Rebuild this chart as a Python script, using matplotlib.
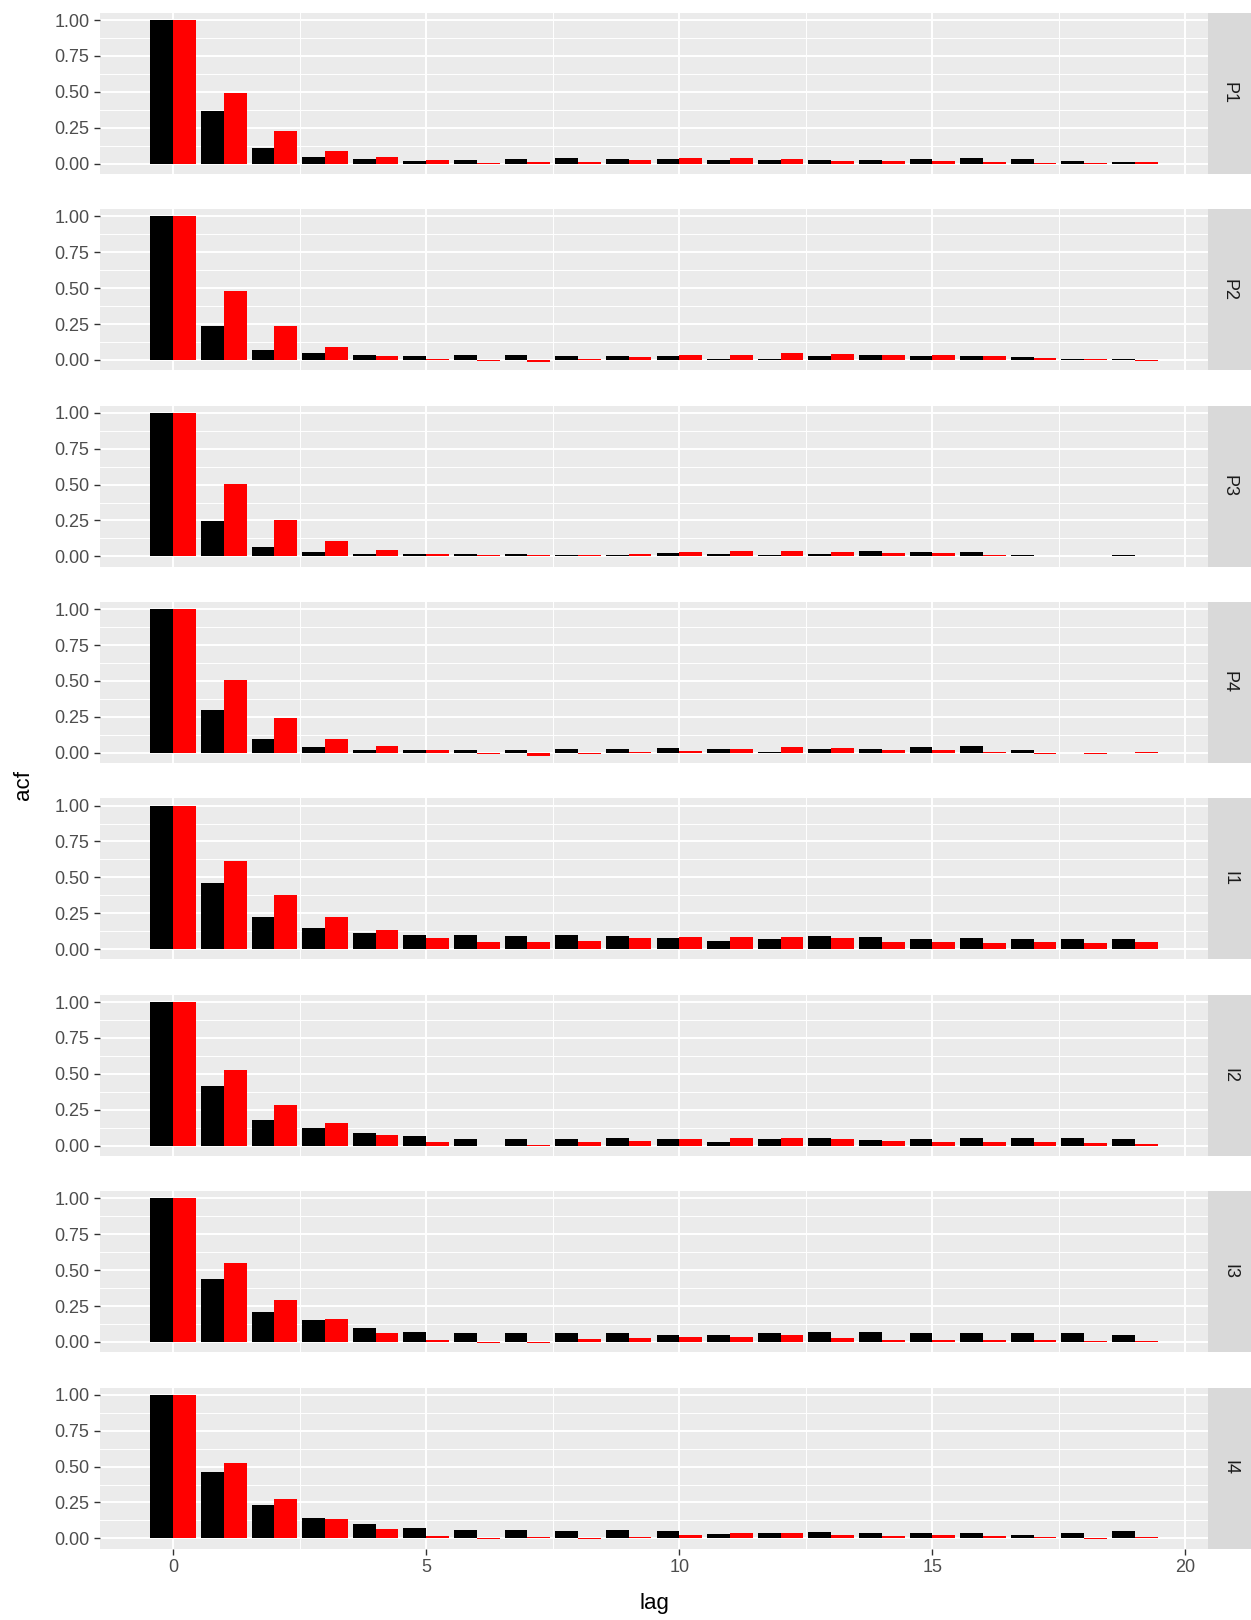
import matplotlib
matplotlib.use("Agg")
import matplotlib.pyplot as plt
import numpy as np

# lags 0..19, two series per panel (black / red)
lags = np.arange(20)
panels = ["P1", "P2", "P3", "P4", "I1", "I2", "I3", "I4"]

p1_black = [1, .367, .109, .046, .032, .019, .026, .032, .039, .032, .032, .026, .026, .026, .026, .032, .039, .032, .019, .012]
p1_red = [1, .49, .227, .088, .046, .026, .005, .012, .012, .026, .039, .039, .032, .019, .019, .019, .012, .005, .005, .012]
p2_black = [1, .234, .067, .046, .032, .026, .032, .032, .026, .026, .026, .006, .006, .026, .032, .026, .026, .019, .006, .005]
p2_red = [1, .478, .234, .088, .026, .007, -.009, -.016, .005, .019, .032, .032, .046, .039, .032, .032, .026, .012, .005, -.008]
p3_black = [1, .248, .067, .032, .019, .019, .019, .019, .012, .012, .026, .019, .012, .019, .039, .032, .032, .012, .005, .007]
p3_red = [1, .506, .255, .109, .046, .019, .007, .007, .012, .019, .032, .039, .039, .032, .026, .026, .007, .005, .005, .005]
p4_black = [1, .297, .095, .039, .019, .019, .019, .019, .026, .026, .032, .026, .006, .026, .026, .039, .046, .019, -.005, -.005]
p4_red = [1, .506, .241, .095, .046, .019, -.006, -.02, -.006, .005, .012, .026, .039, .032, .019, .019, .006, -.006, -.006, .006]
i1_black = [1, .464, .227, .144, .109, .095, .095, .088, .095, .088, .074, .060, .067, .088, .081, .067, .074, .067, .067, .067]
i1_red = [1, .617, .374, .227, .130, .074, .053, .053, .060, .074, .081, .081, .081, .074, .053, .053, .046, .053, .046, .053]
i2_black = [1, .418, .181, .125, .084, .063, .042, .042, .042, .049, .042, .021, .042, .049, .035, .042, .049, .049, .049, .042]
i2_red = [1, .529, .285, .160, .070, .021, -.005, .007, .021, .028, .042, .049, .049, .042, .028, .021, .021, .021, .018, .014]
i3_black = [1, .44, .21, .15, .10, .072, .065, .065, .065, .06, .05, .045, .06, .072, .072, .065, .065, .06, .06, .05]
i3_red = [1, .547, .295, .158, .065, .015, -.01, -.006, .02, .03, .035, .035, .045, .03, .01, .015, .01, .01, .006, .006]
i4_black = [1, .46, .23, .144, .10, .072, .06, .055, .05, .055, .05, .03, .035, .045, .04, .04, .04, .025, .04, .05]
i4_red = [1, .525, .273, .137, .065, .015, -.006, .006, -.005, .006, .025, .035, .04, .02, .015, .02, .015, .01, -.005, .01]

black_series = [p1_black, p2_black, p3_black, p4_black, i1_black, i2_black, i3_black, i4_black]
red_series = [p1_red, p2_red, p3_red, p4_red, i1_red, i2_red, i3_red, i4_red]

W, H = 1251, 1620
fig = plt.figure(figsize=(W / 100, H / 100), dpi=100)
plt.rcParams["font.family"] = ["Liberation Sans", "DejaVu Sans"]

# shared y scale like facet_grid
all_vals = np.concatenate([np.array(s) for s in black_series + red_series])
ymin = min(all_vals.min(), 0)
ymax = max(all_vals.max(), 0)
span = ymax - ymin
ylim = (ymin - 0.05 * span, ymax + 0.05 * span)
xspan = 19.45 - (-0.45)
xlim = (-0.45 - 0.05 * xspan, 19.45 + 0.05 * xspan)

left, right = 100, 1208
strip_w = 43
top0, pan_h, period = 12.7, 161, 196.4

for i, name in enumerate(panels):
    top = top0 + i * period
    ax = fig.add_axes([left / W, 1 - (top + pan_h) / H, (right - left) / W, pan_h / H])
    ax.set_facecolor("#EBEBEB")
    for s in ax.spines.values():
        s.set_visible(False)

    ax.bar(lags - 0.225, black_series[i], width=0.45, color="black", zorder=3)
    ax.bar(lags + 0.225, red_series[i], width=0.45, color="red", zorder=3)

    ax.set_xlim(xlim)
    ax.set_ylim(ylim)
    ax.set_xticks([0, 5, 10, 15, 20])
    ax.set_xticks([2.5, 7.5, 12.5, 17.5], minor=True)
    ax.set_yticks([0, 0.25, 0.5, 0.75, 1.0])
    ax.set_yticks([0.125, 0.375, 0.625, 0.875], minor=True)
    ax.set_yticklabels(["0.00", "0.25", "0.50", "0.75", "1.00"])
    ax.grid(which="major", color="white", linewidth=1.4, zorder=0)
    ax.grid(which="minor", color="white", linewidth=0.7, zorder=0)
    ax.set_axisbelow(True)
    ax.tick_params(which="minor", length=0)
    ax.tick_params(which="major", length=4.5, width=1, color="#333333",
                   labelsize=13, labelcolor="#4D4D4D", pad=3)
    if i < len(panels) - 1:
        ax.tick_params(axis="x", which="major", length=0, labelbottom=False)

    # strip on the right
    sax = fig.add_axes([right / W, 1 - (top + pan_h) / H, strip_w / W, pan_h / H])
    sax.set_facecolor("#D9D9D9")
    sax.set_xticks([])
    sax.set_yticks([])
    for s in sax.spines.values():
        s.set_visible(False)
    sax.text(0.5, 0.5, name, rotation=-90, ha="center", va="center",
             fontsize=13, color="#1A1A1A", transform=sax.transAxes)

fig.text(23 / W, 1 - 785 / H, "acf", rotation=90, ha="center", va="center", fontsize=16)
fig.text((left + right) / 2 / W, 1 - 1603 / H, "lag", ha="center", va="center", fontsize=16)

fig.savefig("out.png", dpi=100, facecolor="white")
